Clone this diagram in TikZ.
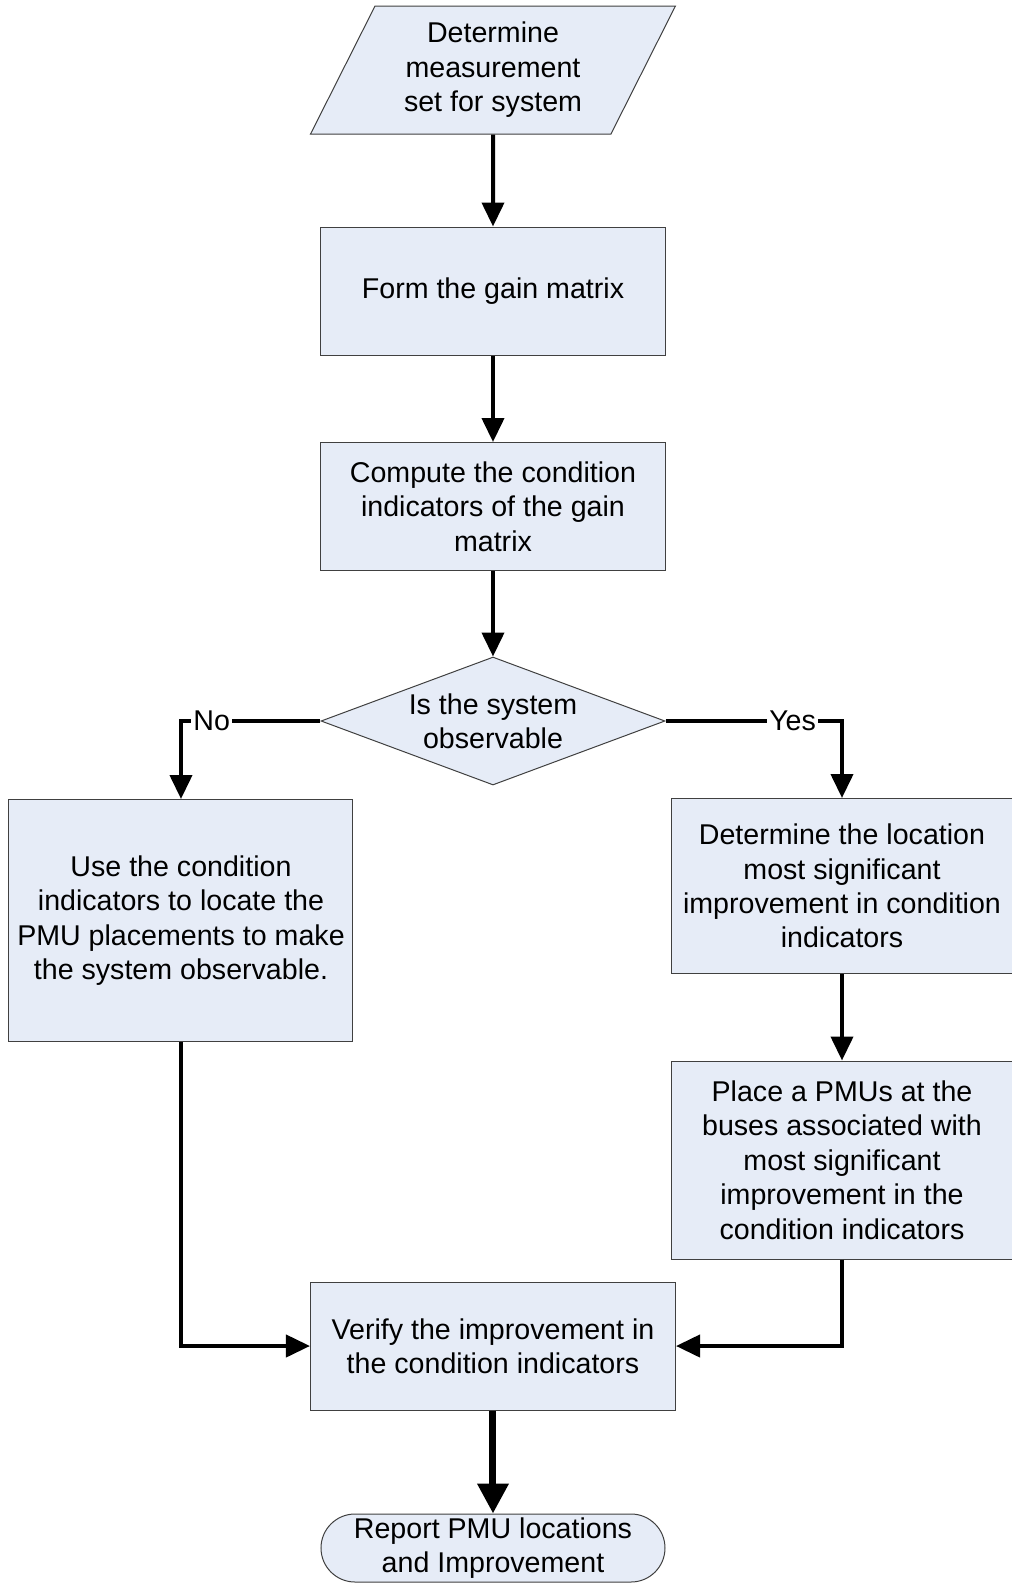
\documentclass[tikz,border=0pt]{standalone}
\usepackage{fontspec}
\setmainfont{Liberation Sans}
\usetikzlibrary{positioning, arrows.meta, shapes.geometric}
\definecolor{boxfill}{HTML}{E6ECF7}
\definecolor{boxline}{HTML}{404040}

\begin{document}
\begin{tikzpicture}
    [
        node distance=107.5pt, on grid,
        font=\fontsize{14.3}{17.2}\selectfont,
        box_node/.style={rectangle, draw=boxline, fill=boxfill, line width=0.5pt, align=center, minimum width=172pt, minimum height=64pt, inner sep=2pt},
        io_node/.style={trapezium, trapezium left angle=63, trapezium right angle=117, trapezium stretches=true, draw=boxline, fill=boxfill, line width=0.5pt, align=center, minimum width=182.5pt, minimum height=64pt, inner sep=0pt},
        test_node/.style={diamond, aspect=2.69, draw=boxline, fill=boxfill, line width=0.5pt, align=center, minimum width=172pt, minimum height=64pt, inner sep=0pt},
        end_node/.style={rectangle, rounded corners=17pt, draw=boxline, fill=boxfill, line width=0.5pt, align=center, minimum width=172pt, minimum height=34pt, inner sep=0pt},
        flow/.style={-{Triangle[width=11pt, length=12pt]}, line width=2pt, color=black},
        flow_thick/.style={-{Triangle[width=15pt, length=15pt]}, line width=3.5pt, color=black},
        flow_label/.style={fill=white, inner sep=1pt, anchor=center},
    ]
        \useasboundingbox (-246.5pt,35pt) rectangle (259.5pt,-757.5pt) ;
        \node[io_node] (start) at (0,0) {Determine\\measurement\\set for system} ;
        \node[box_node] (gain) [below = 110.5pt of start] {Form the gain matrix} ;
        \node[box_node] (cond) [below = 107.75pt of gain] {Compute the condition\\indicators of the gain\\matrix} ;
        \node[test_node] (dia) [below = 107.25pt of cond] {Is the system\\observable} ;
        \node[box_node, minimum height=121pt] (useci) [below left = 99.75pt and 156pt of dia] {Use the condition\\indicators to locate the\\PMU placements to make\\the system observable.} ;
        \node[box_node, minimum width=170.5pt, minimum height=87.5pt] (detloc) [below right = 82.5pt and 174.5pt of dia] {Determine the location\\most significant\\improvement in condition\\indicators} ;
        \node[box_node, minimum width=170.5pt, minimum height=99pt] (place) [below = 137pt of detloc] {Place a PMUs at the\\buses associated with\\most significant\\improvement in the\\condition indicators} ;
        \node[box_node, minimum width=182.5pt] (verify) [below = 312.5pt of dia] {Verify the improvement in\\the condition indicators} ;
        \node[end_node] (report) [below = 101pt of verify] {Report PMU locations\\and Improvement} ;
        \draw[flow] (start) -- (gain) ;
        \draw[flow] (gain) -- (cond) ;
        \draw[flow] (cond) -- (dia) ;
        \draw[flow] (dia.west) -| node[flow_label, pos=0.39] {No} (useci.north) ;
        \draw[flow] (dia.east) -| node[flow_label, pos=0.36] {Yes} (detloc.north) ;
        \draw[flow] (detloc) -- (place) ;
        \draw[flow] (useci.south) |- (verify.west) ;
        \draw[flow] (place.south) |- (verify.east) ;
        \draw[flow_thick] (verify) -- (report) ;
    \end{tikzpicture}
\end{document}
